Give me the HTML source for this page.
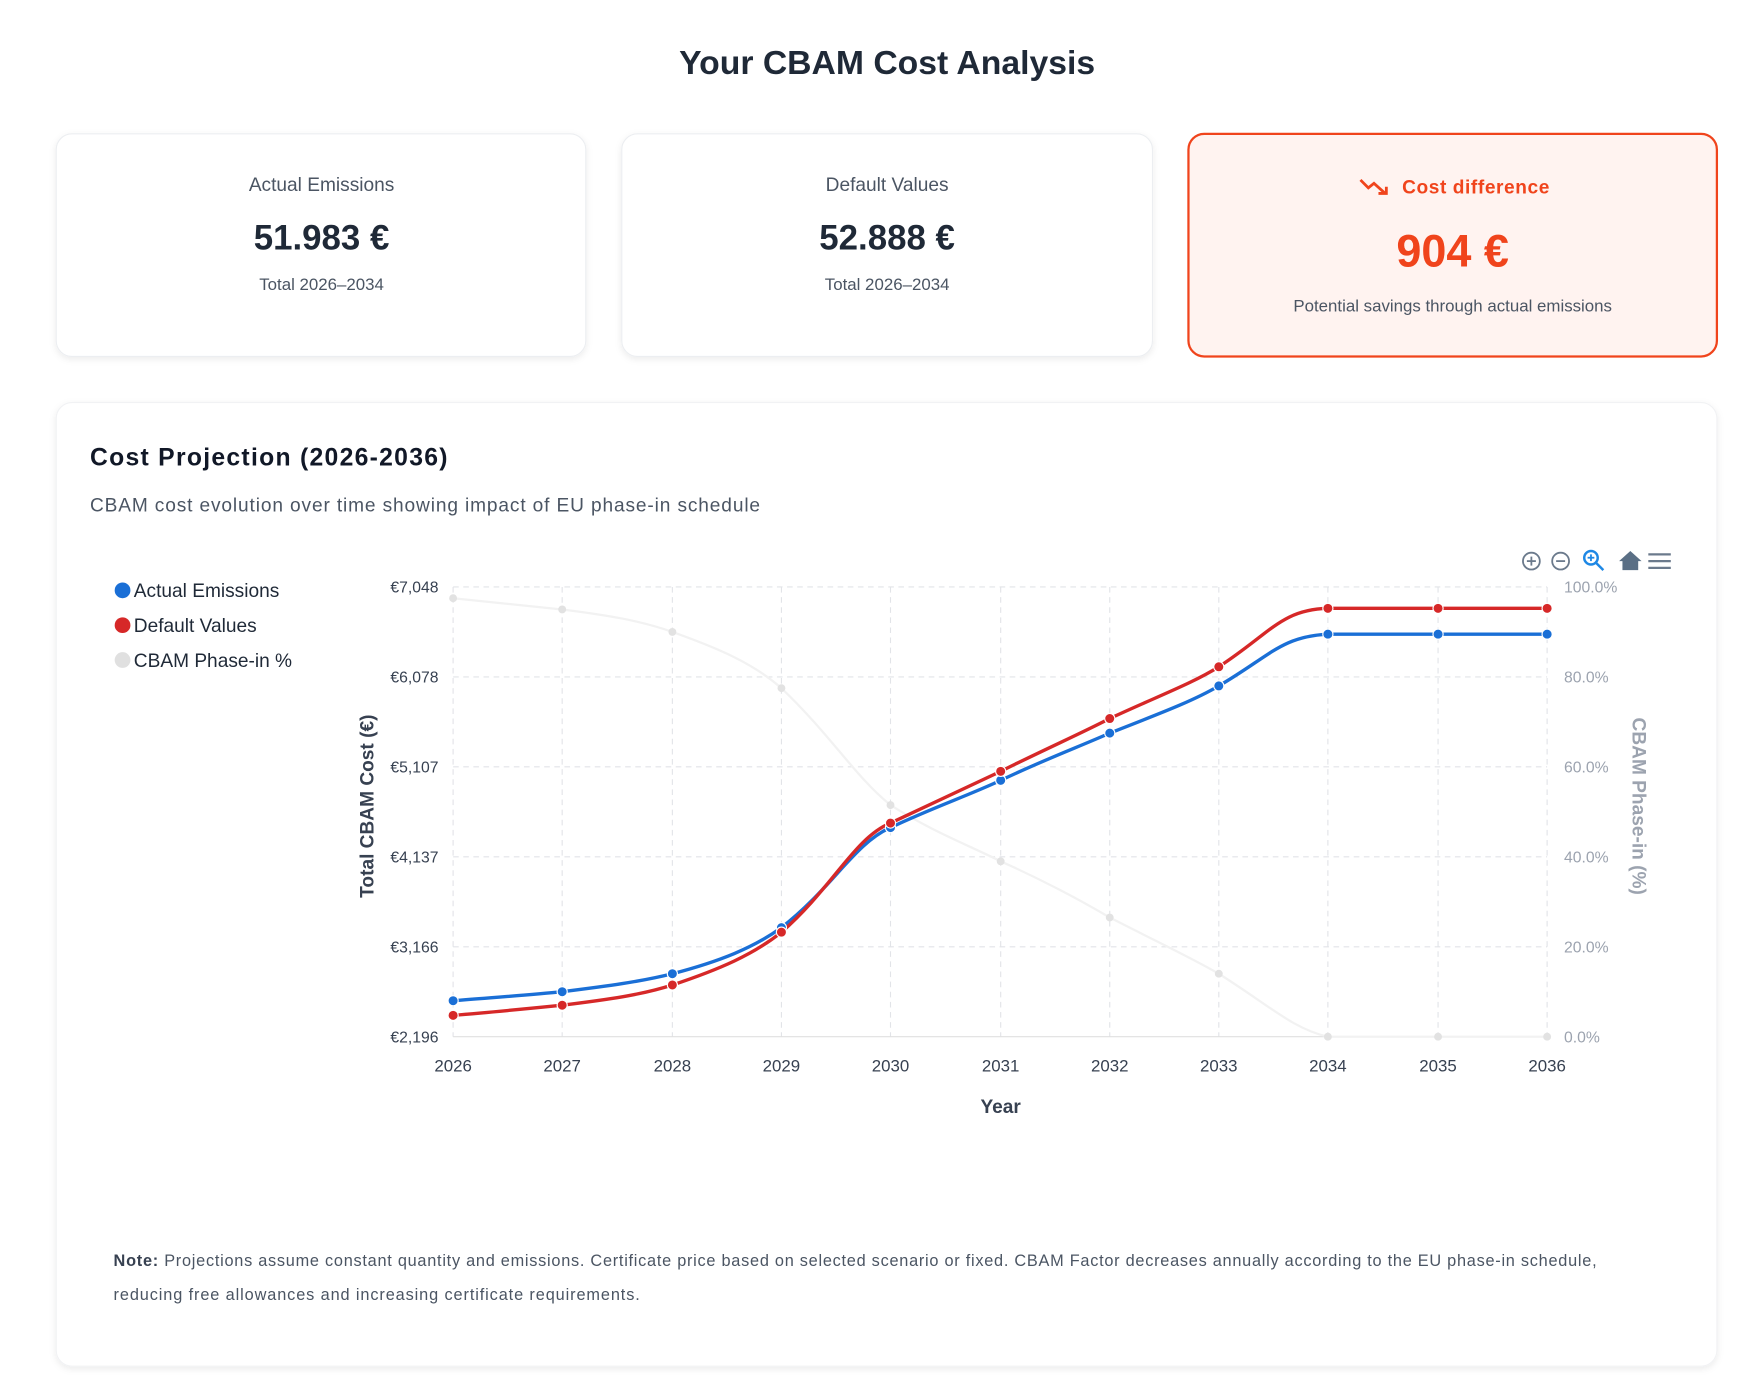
<!DOCTYPE html>
<html><head><meta charset="utf-8"><style>html,body{margin:0;padding:0;background:#fff}svg{display:block}text{font-family:"Liberation Sans",sans-serif}</style></head>
<body>
<svg width="1763" height="1388" viewBox="0 0 1568 1234.4" xmlns="http://www.w3.org/2000/svg">
<defs>
<filter id="sh" x="-5%" y="-5%" width="110%" height="115%"><feDropShadow dx="0" dy="2" stdDeviation="3" flood-color="#000" flood-opacity="0.08"/></filter>
</defs>
<rect width="1568" height="1234.4" fill="#fff"/>
<text x="789" y="66" text-anchor="middle" font-size="30" font-weight="bold" fill="#1f2937">Your CBAM Cost Analysis</text>

<rect x="50" y="119" width="471" height="198" rx="14" fill="#fff" stroke="#eceef1" filter="url(#sh)"/>
<text x="286" y="170" text-anchor="middle" font-size="17" fill="#4b5563">Actual Emissions</text>
<text x="286" y="222" text-anchor="middle" font-size="31" font-weight="bold" fill="#1f2937">51.983 €</text>
<text x="286" y="258" text-anchor="middle" font-size="15" fill="#4b5563">Total 2026–2034</text>

<rect x="553" y="119" width="472" height="198" rx="14" fill="#fff" stroke="#eceef1" filter="url(#sh)"/>
<text x="789" y="170" text-anchor="middle" font-size="17" fill="#4b5563">Default Values</text>
<text x="789" y="222" text-anchor="middle" font-size="31" font-weight="bold" fill="#1f2937">52.888 €</text>
<text x="789" y="258" text-anchor="middle" font-size="15" fill="#4b5563">Total 2026–2034</text>

<rect x="1057" y="119" width="470" height="198" rx="14" fill="#fff3f0" stroke="#f0441c" stroke-width="2"/>
<polyline points="1210,160 1217,167 1222,163 1232,172" fill="none" stroke="#f0441c" stroke-width="2.5"/>
<polyline points="1226,172 1233,172 1233,166" fill="none" stroke="#f0441c" stroke-width="2.5"/>
<text x="1247" y="172" font-size="17" font-weight="bold" fill="#f0441c" textLength="131">Cost difference</text>
<text x="1292" y="237" text-anchor="middle" font-size="40" font-weight="bold" fill="#f0441c">904 €</text>
<text x="1292" y="277" text-anchor="middle" font-size="15" fill="#4b5563">Potential savings through actual emissions</text>

<rect x="50" y="358" width="1477" height="857" rx="14" fill="#fff" stroke="#f1f2f4" filter="url(#sh)"/>
<text x="80" y="414" font-size="22" font-weight="bold" fill="#111827" textLength="318">Cost Projection (2026-2036)</text>
<text x="80" y="455" font-size="17" fill="#4b5563" textLength="596">CBAM cost evolution over time showing impact of EU phase-in schedule</text>

<!-- toolbar -->
<g fill="none" stroke="#6b7a8c" stroke-width="1.6">
<circle cx="1362" cy="499" r="7.5"/><line x1="1358" y1="499" x2="1366" y2="499"/><line x1="1362" y1="495" x2="1362" y2="503"/>
<circle cx="1388" cy="499" r="7.5"/><line x1="1384" y1="499" x2="1392" y2="499"/>
<line x1="1466" y1="493" x2="1486" y2="493" stroke-width="2"/><line x1="1466" y1="499" x2="1486" y2="499" stroke-width="2"/><line x1="1466" y1="505" x2="1486" y2="505" stroke-width="2"/>
</g>
<g fill="none" stroke="#1e88e5" stroke-width="2.2"><circle cx="1415" cy="496" r="6"/><line x1="1419" y1="500" x2="1426" y2="507"/><line x1="1412" y1="496" x2="1418" y2="496" stroke-width="1.6"/><line x1="1415" y1="493" x2="1415" y2="499" stroke-width="1.6"/></g>
<path d="M1440,499 L1450,490 L1460,499 L1457,499 L1457,507 L1443,507 L1443,499 Z" fill="#5a6f85"/>

<!-- grid -->
<g stroke="#e2e4e8" stroke-dasharray="5,4" stroke-width="1">
<line x1="403" y1="522" x2="1376" y2="522"/><line x1="403" y1="602" x2="1376" y2="602"/><line x1="403" y1="682" x2="1376" y2="682"/><line x1="403" y1="762" x2="1376" y2="762"/><line x1="403" y1="842" x2="1376" y2="842"/>
<line x1="403" y1="522" x2="403" y2="922"/><line x1="500" y1="522" x2="500" y2="922"/><line x1="598" y1="522" x2="598" y2="922"/><line x1="695" y1="522" x2="695" y2="922"/><line x1="792" y1="522" x2="792" y2="922"/><line x1="890" y1="522" x2="890" y2="922"/><line x1="987" y1="522" x2="987" y2="922"/><line x1="1084" y1="522" x2="1084" y2="922"/><line x1="1181" y1="522" x2="1181" y2="922"/><line x1="1279" y1="522" x2="1279" y2="922"/><line x1="1376" y1="522" x2="1376" y2="922"/>
</g>
<line x1="403" y1="922" x2="1376" y2="922" stroke="#e0e0e0"/>

<g font-size="14" fill="#374151" text-anchor="end">
<text x="390" y="527">€7,048</text><text x="390" y="607">€6,078</text><text x="390" y="687">€5,107</text><text x="390" y="767">€4,137</text><text x="390" y="847">€3,166</text><text x="390" y="927">€2,196</text>
</g>
<g font-size="14" fill="#9ca3af">
<text x="1391" y="527">100.0%</text><text x="1391" y="607">80.0%</text><text x="1391" y="687">60.0%</text><text x="1391" y="767">40.0%</text><text x="1391" y="847">20.0%</text><text x="1391" y="927">0.0%</text>
</g>
<g font-size="15" fill="#374151" text-anchor="middle">
<text x="403" y="953">2026</text><text x="500" y="953">2027</text><text x="598" y="953">2028</text><text x="695" y="953">2029</text><text x="792" y="953">2030</text><text x="890" y="953">2031</text><text x="987" y="953">2032</text><text x="1084" y="953">2033</text><text x="1181" y="953">2034</text><text x="1279" y="953">2035</text><text x="1376" y="953">2036</text>
</g>
<text x="890" y="990" text-anchor="middle" font-size="17" font-weight="bold" fill="#374151">Year</text>
<text transform="translate(332,717) rotate(-90)" text-anchor="middle" font-size="17" font-weight="bold" fill="#374151">Total CBAM Cost (€)</text>
<text transform="translate(1452,717) rotate(90)" text-anchor="middle" font-size="17" font-weight="bold" fill="#9ca3af">CBAM Phase-in (%)</text>

<!-- phase-in -->
<path d="M403,532 C440,536 470,539 500,542 C540,547 570,552 598,562 C640,577 670,590 695,612 C740,655 760,690 792,716 C830,740 860,751 890,766 C930,784 960,800 987,816 C1030,838 1060,852 1084,866 C1130,895 1150,915 1181,922 L1376,922" fill="none" stroke="#f2f2f2" stroke-width="2"/>
<g fill="#e2e2e2"><circle cx="403" cy="532" r="3.5"/><circle cx="500" cy="542" r="3.5"/><circle cx="598" cy="562" r="3.5"/><circle cx="695" cy="612" r="3.5"/><circle cx="792" cy="716" r="3.5"/><circle cx="890" cy="766" r="3.5"/><circle cx="987" cy="816" r="3.5"/><circle cx="1084" cy="866" r="3.5"/><circle cx="1181" cy="922" r="3.5"/><circle cx="1279" cy="922" r="3.5"/><circle cx="1376" cy="922" r="3.5"/></g>

<!-- blue -->
<path d="M403,890 C440,887 470,885 500,882 C540,877 570,873 598,866 C640,855 670,843 695,825 C740,790 760,750 792,736 C830,718 860,708 890,694 C930,675 960,664 987,652 C1030,635 1060,624 1084,610 C1130,583 1140,566 1181,564 L1376,564" fill="none" stroke="#1a6fd6" stroke-width="3"/>
<!-- red -->
<path d="M403,903 C440,900 470,897 500,894 C540,889 570,885 598,876 C640,862 670,849 695,829 C740,790 760,745 792,732 C830,714 860,700 890,686 C930,666 960,653 987,639 C1030,619 1060,608 1084,593 C1130,563 1140,542 1181,541 L1376,541" fill="none" stroke="#d62828" stroke-width="3"/>
<g fill="#1a6fd6" stroke="#fff" stroke-width="1"><circle cx="403" cy="890" r="4.5"/><circle cx="500" cy="882" r="4.5"/><circle cx="598" cy="866" r="4.5"/><circle cx="695" cy="825" r="4.5"/><circle cx="792" cy="736" r="4.5"/><circle cx="890" cy="694" r="4.5"/><circle cx="987" cy="652" r="4.5"/><circle cx="1084" cy="610" r="4.5"/><circle cx="1181" cy="564" r="4.5"/><circle cx="1279" cy="564" r="4.5"/><circle cx="1376" cy="564" r="4.5"/></g>
<g fill="#d62828" stroke="#fff" stroke-width="1"><circle cx="403" cy="903" r="4.5"/><circle cx="500" cy="894" r="4.5"/><circle cx="598" cy="876" r="4.5"/><circle cx="695" cy="829" r="4.5"/><circle cx="792" cy="732" r="4.5"/><circle cx="890" cy="686" r="4.5"/><circle cx="987" cy="639" r="4.5"/><circle cx="1084" cy="593" r="4.5"/><circle cx="1181" cy="541" r="4.5"/><circle cx="1279" cy="541" r="4.5"/><circle cx="1376" cy="541" r="4.5"/></g>

<!-- legend -->
<circle cx="109" cy="525" r="7" fill="#1a6fd6"/><text x="119" y="531" font-size="17" fill="#1f2937">Actual Emissions</text>
<circle cx="109" cy="556" r="7" fill="#d62828"/><text x="119" y="562" font-size="17" fill="#1f2937">Default Values</text>
<circle cx="109" cy="587" r="7" fill="#e0e0e0"/><text x="119" y="593" font-size="17" fill="#1f2937">CBAM Phase-in %</text>

<text x="101" y="1126" font-size="14.5" fill="#4b5563" textLength="1319"><tspan font-weight="bold" fill="#374151">Note:</tspan> Projections assume constant quantity and emissions. Certificate price based on selected scenario or fixed. CBAM Factor decreases annually according to the EU phase-in schedule,</text>
<text x="101" y="1156" font-size="14.5" fill="#4b5563" textLength="468">reducing free allowances and increasing certificate requirements.</text>
</svg>
</body></html>
